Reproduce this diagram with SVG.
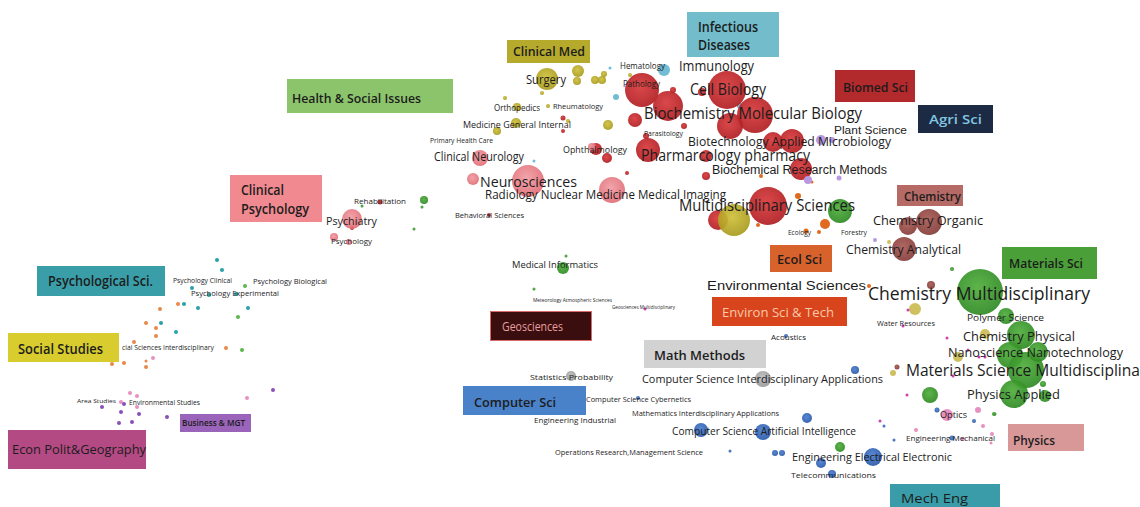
<svg xmlns="http://www.w3.org/2000/svg" width="1140" height="507" viewBox="0 0 1140 507">
<defs>
<radialGradient id="gRed" cx="45%" cy="40%" r="60%"><stop offset="0" stop-color="#d8383a"/><stop offset="1" stop-color="#b01e22"/></radialGradient>
<radialGradient id="gPink" cx="45%" cy="40%" r="60%"><stop offset="0" stop-color="#f09aa0"/><stop offset="1" stop-color="#e06a74"/></radialGradient>
<radialGradient id="gOlive" cx="45%" cy="40%" r="60%"><stop offset="0" stop-color="#cfc03a"/><stop offset="1" stop-color="#a89a1e"/></radialGradient>
<radialGradient id="gGreen" cx="45%" cy="40%" r="60%"><stop offset="0" stop-color="#4fae3a"/><stop offset="1" stop-color="#2f8a24"/></radialGradient>
<radialGradient id="gBrown" cx="45%" cy="40%" r="60%"><stop offset="0" stop-color="#a85a55"/><stop offset="1" stop-color="#843c38"/></radialGradient>
<radialGradient id="gBlue" cx="45%" cy="40%" r="60%"><stop offset="0" stop-color="#4a7ed0"/><stop offset="1" stop-color="#2a58a8"/></radialGradient>
<radialGradient id="gGray" cx="45%" cy="40%" r="60%"><stop offset="0" stop-color="#bdbdbd"/><stop offset="1" stop-color="#949494"/></radialGradient>
</defs>
<style>
text{font-family:"Open Sans","Noto Sans","Liberation Sans",sans-serif;fill:#1c1c1c}
.ar{font-family:"Liberation Sans",Arial,sans-serif}
.box text{font-weight:600}
.r{fill:url(#gRed);opacity:.92}
.p{fill:url(#gPink);opacity:.9}
.o{fill:url(#gOlive);opacity:.92}
.g{fill:url(#gGreen);opacity:.92}
.b{fill:url(#gBrown);opacity:.92}
.u{fill:url(#gBlue);opacity:.92}
.y{fill:url(#gGray);opacity:.9}
.lb{fill:#72bcd4}
.dt{fill:#2aa0a8}
.do{fill:#e8884a}
.dg{fill:#5cb84a}
.dp{fill:#e890c0}
.dv{fill:#8a50b8}
.dm{fill:#d040b0}
.dy{fill:#cfc060}
.dl{fill:#b898e0}
.dor{fill:#e06a20}
</style>
<rect width="1140" height="507" fill="#ffffff"/>

<g id="bubbles">
<!-- clinical med olive -->
<circle class="o" cx="547" cy="79" r="11"/>
<circle class="o" cx="578" cy="71" r="6"/>
<circle class="o" cx="577" cy="81" r="4"/>
<circle class="o" cx="595" cy="80" r="4"/>
<circle class="o" cx="602" cy="80" r="4"/>
<circle class="o" cx="604" cy="74" r="3"/>
<circle class="o" cx="553" cy="58" r="2.5"/>
<circle class="o" cx="542" cy="93" r="2"/>
<circle class="o" cx="505" cy="98" r="2"/>
<circle class="o" cx="517" cy="107" r="4"/>
<circle class="o" cx="516" cy="123" r="5"/>
<circle class="o" cx="497" cy="131" r="4"/>
<circle class="o" cx="608" cy="125" r="5"/>
<circle class="o" cx="548" cy="106" r="2"/>
<circle class="o" cx="630" cy="75" r="2"/>
<circle class="o" cx="568" cy="121" r="2"/>
<!-- light blue -->
<circle class="lb" cx="664" cy="70" r="6"/>
<circle class="lb" cx="616" cy="97" r="3"/>
<circle class="lb" cx="610" cy="68" r="1.5"/>
<circle class="lb" cx="534" cy="161" r="1.5"/>
<circle class="lb" cx="740" cy="106" r="3"/>
<!-- biomed red -->
<circle class="r" cx="642" cy="90" r="17"/>
<circle class="r" cx="668" cy="106" r="15"/>
<circle class="r" cx="635" cy="120" r="7"/>
<circle class="r" cx="727" cy="90" r="19"/>
<circle class="r" cx="755" cy="115" r="18"/>
<circle class="r" cx="730" cy="126" r="13"/>
<circle class="r" cx="702" cy="92" r="4"/>
<circle class="r" cx="673" cy="90" r="3"/>
<circle class="r" cx="648" cy="150" r="12"/>
<circle class="r" cx="684" cy="126" r="3"/>
<circle class="r" cx="706" cy="156" r="6"/>
<circle class="r" cx="773" cy="142" r="10"/>
<circle class="r" cx="792" cy="141" r="12"/>
<circle class="r" cx="801" cy="169" r="11"/>
<circle class="r" cx="706" cy="176" r="4"/>
<circle class="r" cx="627" cy="173" r="2"/>
<circle class="r" cx="596" cy="149" r="6"/>
<circle class="r" cx="607" cy="158" r="5"/>
<circle class="r" cx="563" cy="118" r="2.5"/>
<circle class="r" cx="563" cy="131" r="2"/>
<circle class="r" cx="646" cy="136" r="3"/>
<circle class="r" cx="768" cy="206" r="19"/>
<circle class="r" cx="718" cy="220" r="10"/>
<circle class="o" cx="734" cy="220" r="16"/>
<circle class="r" cx="352" cy="228" r="2"/>
<!-- pink neuro -->
<circle class="p" cx="528" cy="181" r="16"/>
<circle class="p" cx="473" cy="179" r="6"/>
<circle class="p" cx="480" cy="158" r="8"/>
<circle class="p" cx="612" cy="190" r="13"/>
<circle class="p" cx="592" cy="147" r="4"/>
<circle class="p" cx="352" cy="219" r="10"/>
<circle class="p" cx="334" cy="237" r="4"/>
<circle class="p" cx="349" cy="242" r="3"/>
<circle class="r" cx="380" cy="202" r="2.5"/>
<circle class="r" cx="489" cy="215" r="2"/>
<!-- greens left -->
<circle class="g" cx="424" cy="200" r="4"/>
<circle class="g" cx="422" cy="207" r="1.5"/>
<circle class="g" cx="414" cy="229" r="1.5"/>
<circle class="g" cx="362" cy="206" r="1.5"/>
<circle class="g" cx="563" cy="268" r="6"/>
<circle class="g" cx="566" cy="256" r="1.5"/>
<circle class="g" cx="534" cy="289" r="1.5"/>
<!-- multidisciplinary green + orange / purple -->
<circle class="g" cx="840" cy="211" r="12"/>
<circle class="dor" cx="825" cy="224" r="5"/>
<circle class="dor" cx="798" cy="196" r="3"/>
<circle class="dor" cx="812" cy="182" r="1.5"/>
<circle class="dor" cx="806" cy="231" r="2.5"/>
<circle class="dor" cx="819" cy="232" r="2"/>
<circle class="dor" cx="761" cy="176" r="2"/>
<circle class="dor" cx="758" cy="225" r="2"/>
<circle class="dl" cx="821" cy="140" r="5"/>
<circle class="dl" cx="832" cy="140" r="3"/>
<circle class="dl" cx="808" cy="180" r="4"/>
<circle class="dl" cx="839" cy="178" r="2.5"/>
<circle class="dl" cx="875" cy="240" r="2"/>
<circle class="dy" cx="889" cy="242" r="2"/>
<!-- chemistry brown -->
<circle class="b" cx="929" cy="222" r="13"/>
<circle class="b" cx="908" cy="226" r="9"/>
<circle class="b" cx="904" cy="249" r="12"/>
<circle class="b" cx="931" cy="285" r="4"/>
<circle class="dor" cx="869" cy="286" r="2"/>
<!-- materials green -->
<circle class="g" cx="952" cy="269" r="2"/>
<circle class="g" cx="980" cy="292" r="23"/>
<circle class="g" cx="1006" cy="316" r="8"/>
<circle class="g" cx="1021" cy="335" r="14"/>
<circle class="g" cx="1010" cy="355" r="13"/>
<circle class="g" cx="1026" cy="370" r="18"/>
<circle class="g" cx="1038" cy="352" r="10"/>
<circle class="g" cx="1014" cy="394" r="14"/>
<circle class="g" cx="1045" cy="396" r="6"/>
<circle class="g" cx="930" cy="395" r="8"/>
<circle class="g" cx="1043" cy="384" r="3"/>
<circle class="g" cx="994" cy="414" r="2"/>
<circle class="dy" cx="915" cy="309" r="6"/>
<circle class="dy" cx="985" cy="334" r="5"/>
<circle class="dy" cx="958" cy="357" r="5"/>
<circle class="dy" cx="893" cy="373" r="3"/>
<circle class="dm" cx="908" cy="310" r="1.5"/>
<circle class="dm" cx="903" cy="326" r="1.5"/>
<circle class="dm" cx="947" cy="338" r="1.5"/>
<circle class="dm" cx="968" cy="350" r="1.5"/>
<circle class="dm" cx="979" cy="357" r="1.5"/>
<circle class="dm" cx="985" cy="357" r="1.5"/>
<circle class="dm" cx="907" cy="395" r="1.5"/>
<circle class="dm" cx="953" cy="376" r="1.5"/>
<circle class="dm" cx="880" cy="421" r="1.5"/>
<circle class="b" cx="897" cy="367" r="2.5"/>
<circle class="dp" cx="978" cy="410" r="3"/>
<!-- physics / optics -->
<circle class="dp" cx="947" cy="415" r="6"/>
<circle class="dp" cx="916" cy="430" r="2"/>
<circle class="dp" cx="983" cy="426" r="2"/>
<circle class="dp" cx="992" cy="434" r="2"/>
<circle class="dp" cx="991" cy="443" r="1.5"/>
<circle class="dp" cx="963" cy="439" r="2"/>
<circle class="u" cx="937" cy="410" r="2.5"/>
<circle class="u" cx="974" cy="421" r="2"/>
<circle class="u" cx="884" cy="426" r="1.5"/>
<circle class="u" cx="894" cy="440" r="1.5"/>
<circle class="u" cx="952" cy="438" r="2.5"/>
<circle class="g" cx="995" cy="414" r="1.5"/>
<!-- blues / grays -->
<circle class="y" cx="763" cy="379" r="8"/>
<circle class="y" cx="571" cy="376" r="5"/>
<circle class="u" cx="855" cy="370" r="4"/>
<circle class="u" cx="807" cy="418" r="5"/>
<circle class="u" cx="763" cy="432" r="8"/>
<circle class="u" cx="701" cy="430" r="7"/>
<circle class="u" cx="638" cy="398" r="2"/>
<circle class="u" cx="730" cy="451" r="1.5"/>
<circle class="u" cx="775" cy="453" r="3"/>
<circle class="u" cx="782" cy="453" r="3"/>
<circle class="u" cx="821" cy="463" r="5"/>
<circle class="u" cx="832" cy="474" r="4"/>
<circle class="u" cx="873" cy="457" r="9"/>
<circle class="u" cx="786" cy="336" r="2"/>
<circle class="g" cx="840" cy="447" r="5"/>
<circle class="dm" cx="645" cy="309" r="1.5"/>
<!-- social / psych dots -->
<circle class="dt" cx="217" cy="260" r="2"/>
<circle class="dt" cx="222" cy="270" r="2"/>
<circle class="dt" cx="192" cy="288" r="2"/>
<circle class="dt" cx="198" cy="308" r="2"/>
<circle class="dt" cx="184" cy="304" r="2"/>
<circle class="dt" cx="248" cy="308" r="2"/>
<circle class="dt" cx="161" cy="323" r="2"/>
<circle class="dt" cx="176" cy="332" r="2"/>
<circle class="dt" cx="236" cy="294" r="2"/>
<circle class="dt" cx="209" cy="295" r="2"/>
<circle class="do" cx="178" cy="304" r="2"/>
<circle class="do" cx="160" cy="309" r="2"/>
<circle class="do" cx="146" cy="323" r="2"/>
<circle class="do" cx="156" cy="328" r="2"/>
<circle class="do" cx="156" cy="336" r="2"/>
<circle class="do" cx="134" cy="342" r="2"/>
<circle class="do" cx="226" cy="348" r="2"/>
<circle class="do" cx="146" cy="367" r="2"/>
<circle class="do" cx="124" cy="363" r="2"/>
<circle class="do" cx="112" cy="364" r="2"/>
<circle class="do" cx="146" cy="361" r="1.5"/>
<circle class="dg" cx="245" cy="286" r="2"/>
<circle class="dg" cx="238" cy="317" r="2"/>
<circle class="dg" cx="242" cy="350" r="2"/>
<circle class="dp" cx="153" cy="358" r="2"/>
<circle class="dp" cx="247" cy="398" r="2"/>
<circle class="dp" cx="130" cy="393" r="2"/>
<circle class="dp" cx="137" cy="396" r="2"/>
<circle class="dp" cx="121" cy="402" r="2"/>
<circle class="dp" cx="137" cy="407" r="2"/>
<circle class="dv" cx="273" cy="390" r="2"/>
<circle class="dv" cx="102" cy="407" r="2"/>
<circle class="dv" cx="121" cy="412" r="2"/>
<circle class="dv" cx="139" cy="414" r="2"/>
<circle class="dv" cx="167" cy="417" r="2"/>
<circle class="dv" cx="119" cy="423" r="2"/>
<circle class="dv" cx="132" cy="422" r="2"/>
<circle class="dv" cx="124" cy="404" r="2"/>
</g>

<g id="labels">
<text x="679" y="71" font-size="14" textLength="75" lengthAdjust="spacingAndGlyphs">Immunology</text>
<text x="690" y="95" font-size="16" textLength="76" lengthAdjust="spacingAndGlyphs">Cell Biology</text>
<text x="644" y="119" font-size="17" textLength="218" lengthAdjust="spacingAndGlyphs">Biochemistry Molecular Biology</text>
<text x="688" y="146" font-size="13" textLength="203" lengthAdjust="spacingAndGlyphs">Biotechnology Applied Microbiology</text>
<text x="641" y="161" font-size="16" textLength="169" lengthAdjust="spacingAndGlyphs">Pharmarcology pharmacy</text>
<text class="ar" x="712" y="174" font-size="12" textLength="175" lengthAdjust="spacingAndGlyphs">Biochemical Research Methods</text>
<text class="ar" x="834" y="134" font-size="11" textLength="73" lengthAdjust="spacingAndGlyphs">Plant Science</text>
<text x="620" y="69" font-size="9" textLength="45" lengthAdjust="spacingAndGlyphs">Hematology</text>
<text x="623" y="87" font-size="8.5" textLength="37" lengthAdjust="spacingAndGlyphs">Pathology</text>
<text x="526" y="84" font-size="12" textLength="40" lengthAdjust="spacingAndGlyphs">Surgery</text>
<text x="553" y="109" font-size="8" textLength="50" lengthAdjust="spacingAndGlyphs">Rheumatology</text>
<text x="494" y="111" font-size="8.5" textLength="46" lengthAdjust="spacingAndGlyphs">Orthopedics</text>
<text x="463" y="128" font-size="9.5" textLength="108" lengthAdjust="spacingAndGlyphs">Medicine General Internal</text>
<text x="430" y="143" font-size="6.5" textLength="63" lengthAdjust="spacingAndGlyphs">Primary Health Care</text>
<text x="644" y="136" font-size="6.5" textLength="39" lengthAdjust="spacingAndGlyphs">Parasitology</text>
<text x="563" y="153" font-size="9.5" textLength="64" lengthAdjust="spacingAndGlyphs">Ophthalmology</text>
<text x="434" y="161" font-size="12" textLength="90" lengthAdjust="spacingAndGlyphs">Clinical Neurology</text>
<text x="480" y="187" font-size="15" textLength="97" lengthAdjust="spacingAndGlyphs">Neurosciences</text>
<text x="485" y="199" font-size="12.5" textLength="241" lengthAdjust="spacingAndGlyphs">Radiology Nuclear Medicine Medical Imaging</text>
<text x="679" y="211" font-size="16" textLength="176" lengthAdjust="spacingAndGlyphs">Multidisciplinary Sciences</text>
<text x="788" y="235" font-size="6.5" textLength="23" lengthAdjust="spacingAndGlyphs">Ecology</text>
<text x="841" y="235" font-size="6.5" textLength="26" lengthAdjust="spacingAndGlyphs">Forestry</text>
<text x="873" y="225" font-size="13" textLength="110" lengthAdjust="spacingAndGlyphs">Chemistry Organic</text>
<text x="846" y="254" font-size="12" textLength="115" lengthAdjust="spacingAndGlyphs">Chemistry Analytical</text>
<text class="ar" x="707" y="290" font-size="13" textLength="159" lengthAdjust="spacingAndGlyphs">Environmental Sciences</text>
<text x="868" y="300" font-size="18" textLength="222" lengthAdjust="spacingAndGlyphs">Chemistry Multidisciplinary</text>
<text x="967" y="321" font-size="9" textLength="77" lengthAdjust="spacingAndGlyphs">Polymer Science</text>
<text x="877" y="326" font-size="7" textLength="58" lengthAdjust="spacingAndGlyphs">Water Resources</text>
<text x="963" y="341" font-size="13" textLength="112" lengthAdjust="spacingAndGlyphs">Chemistry Physical</text>
<text x="948" y="357" font-size="12" textLength="175" lengthAdjust="spacingAndGlyphs">Nanoscience Nanotechnology</text>
<text x="906" y="376" font-size="16" textLength="248" lengthAdjust="spacingAndGlyphs">Materials Science Multidisciplinary</text>
<text x="967" y="399" font-size="12" textLength="93" lengthAdjust="spacingAndGlyphs">Physics Applied</text>
<text x="940" y="418" font-size="8.5" textLength="27" lengthAdjust="spacingAndGlyphs">Optics</text>
<text x="906" y="441" font-size="7.5" textLength="89" lengthAdjust="spacingAndGlyphs">Engineering Mechanical</text>
<text x="771" y="340" font-size="7.5" textLength="35" lengthAdjust="spacingAndGlyphs">Acoustics</text>
<text x="642" y="383" font-size="11" textLength="241" lengthAdjust="spacingAndGlyphs">Computer Science Interdisciplinary Applications</text>
<text x="530" y="380" font-size="8" textLength="83" lengthAdjust="spacingAndGlyphs">Statistics Probability</text>
<text x="586" y="402" font-size="7" textLength="105" lengthAdjust="spacingAndGlyphs">Computer Science Cybernetics</text>
<text x="632" y="416" font-size="7" textLength="147" lengthAdjust="spacingAndGlyphs">Mathematics Interdisciplinary Applications</text>
<text x="534" y="423" font-size="7.5" textLength="82" lengthAdjust="spacingAndGlyphs">Engineering Industrial</text>
<text x="672" y="435" font-size="11" textLength="184" lengthAdjust="spacingAndGlyphs">Computer Science Artificial Intelligence</text>
<text x="555" y="455" font-size="7" textLength="148" lengthAdjust="spacingAndGlyphs">Operations Research,Management Science</text>
<text x="792" y="461" font-size="11" textLength="160" lengthAdjust="spacingAndGlyphs">Engineering Electrical Electronic</text>
<text x="791" y="478" font-size="8" textLength="85" lengthAdjust="spacingAndGlyphs">Telecommunications</text>
<text x="512" y="268" font-size="9.5" textLength="86" lengthAdjust="spacingAndGlyphs">Medical Informatics</text>
<text x="533" y="302" font-size="4.5" textLength="79" lengthAdjust="spacingAndGlyphs">Meteorology Atmospheric Sciences</text>
<text x="612" y="309" font-size="4.5" textLength="63" lengthAdjust="spacingAndGlyphs">Geosciences Multidisciplinary</text>
<text x="455" y="218" font-size="7.5" textLength="69" lengthAdjust="spacingAndGlyphs">Behavioral Sciences</text>
<text x="354" y="204" font-size="7.5" textLength="52" lengthAdjust="spacingAndGlyphs">Rehabilitation</text>
<text x="326" y="225" font-size="11" textLength="51" lengthAdjust="spacingAndGlyphs">Psychiatry</text>
<text x="331" y="244" font-size="7.5" textLength="41" lengthAdjust="spacingAndGlyphs">Psychology</text>
<text x="173" y="283" font-size="6.5" textLength="59" lengthAdjust="spacingAndGlyphs">Psychology Clinical</text>
<text x="253" y="284" font-size="7.5" textLength="74" lengthAdjust="spacingAndGlyphs">Psychology Biological</text>
<text x="191" y="296" font-size="7.5" textLength="88" lengthAdjust="spacingAndGlyphs">Psychology Experimental</text>
<text x="122" y="350" font-size="6.5" textLength="92" lengthAdjust="spacingAndGlyphs">cial Sciences Interdisciplinary</text>
<text x="77" y="403" font-size="6" textLength="39" lengthAdjust="spacingAndGlyphs">Area Studies</text>
<text x="129" y="405" font-size="6.5" textLength="71" lengthAdjust="spacingAndGlyphs">Environmental Studies</text>
</g>

<g class="box">
<g id="infectious-diseases"><rect x="687" y="12" width="92" height="45" fill="#72bccb"/><text x="698" y="32" font-size="14" textLength="60" lengthAdjust="spacingAndGlyphs">Infectious</text><text x="698" y="50" font-size="14" textLength="52" lengthAdjust="spacingAndGlyphs">Diseases</text></g>
<g id="clinical-med"><rect x="507" y="40" width="83" height="23" fill="#b5aa2c"/><text x="513" y="56" font-size="13" textLength="72" lengthAdjust="spacingAndGlyphs">Clinical Med</text></g>
<g id="health-social"><rect x="287" y="79" width="166" height="34" fill="#8cc46c"/><text x="292" y="103" font-size="13" textLength="129" lengthAdjust="spacingAndGlyphs">Health &amp; Social Issues</text></g>
<g id="biomed-sci"><rect x="835" y="70" width="80" height="32" fill="#b32a2c"/><text x="843" y="92" font-size="13" textLength="65" lengthAdjust="spacingAndGlyphs">Biomed Sci</text></g>
<g id="agri-sci"><rect x="918" y="105" width="75" height="28" fill="#1c2a44"/><text x="929" y="124" font-size="13" textLength="53" lengthAdjust="spacingAndGlyphs" style="fill:#82c6e0">Agri Sci</text></g>
<g id="clinical-psychology"><rect x="230" y="175" width="92" height="47" fill="#f08a90"/><text x="241" y="195" font-size="14" textLength="43" lengthAdjust="spacingAndGlyphs">Clinical</text><text x="241" y="214" font-size="14" textLength="68" lengthAdjust="spacingAndGlyphs">Psychology</text></g>
<g id="chemistry"><rect x="897" y="185" width="66" height="21" fill="#b56a66"/><text x="904" y="201" font-size="12" textLength="57" lengthAdjust="spacingAndGlyphs">Chemistry</text></g>
<g id="materials-sci"><rect x="1002" y="247" width="95" height="32" fill="#4a9f38"/><text x="1009" y="268" font-size="12" textLength="74" lengthAdjust="spacingAndGlyphs">Materials Sci</text></g>
<g id="ecol-sci"><rect x="770" y="245" width="62" height="27" fill="#d8622c"/><text x="777" y="264" font-size="12" textLength="45" lengthAdjust="spacingAndGlyphs">Ecol Sci</text></g>
<g id="psychological-sci"><rect x="37" y="266" width="128" height="30" fill="#3a9ea8"/><text x="48" y="286" font-size="14" textLength="105" lengthAdjust="spacingAndGlyphs">Psychological Sci.</text></g>
<g id="environ-sci-tech"><rect x="712" y="297" width="135" height="29" fill="#d8441c"/><text x="722" y="317" font-size="13" textLength="112" lengthAdjust="spacingAndGlyphs" style="fill:#f8c8a8;font-weight:400">Environ Sci &amp; Tech</text></g>
<g id="geosciences"><rect x="490.5" y="311.5" width="101" height="29" fill="#3a0e0e" stroke="#d86a6a" stroke-width="1"/><text x="502" y="331" font-size="12" textLength="61" lengthAdjust="spacingAndGlyphs" style="fill:#e8a0a0;font-weight:400">Geosciences</text></g>
<g id="social-studies"><rect x="8" y="333" width="111" height="29" fill="#d8cc2e"/><text x="18" y="354" font-size="14" textLength="85" lengthAdjust="spacingAndGlyphs">Social Studies</text></g>
<g id="math-methods"><rect x="644" y="340" width="122" height="28" fill="#d2d2d2"/><text x="654" y="360" font-size="13" textLength="91" lengthAdjust="spacingAndGlyphs">Math Methods</text></g>
<g id="computer-sci"><rect x="463" y="386" width="123" height="29" fill="#4a82ca"/><text x="474" y="407" font-size="13" textLength="82" lengthAdjust="spacingAndGlyphs">Computer Sci</text></g>
<g id="business-mgt"><rect x="180" y="414" width="71" height="18" fill="#9a64ba"/><text x="182" y="426" font-size="8.5" textLength="63" lengthAdjust="spacingAndGlyphs">Business &amp; MGT</text></g>
<g id="econ-polit-geography"><rect x="8" y="430" width="138" height="39" fill="#b44a84"/><text x="12" y="454" font-size="13" textLength="134" lengthAdjust="spacingAndGlyphs" style="font-weight:400">Econ Polit&amp;Geography</text></g>
<g id="physics"><rect x="1008" y="424" width="76" height="27" fill="#d89898"/><text x="1013" y="445" font-size="12" textLength="42" lengthAdjust="spacingAndGlyphs">Physics</text></g>
<g id="mech-eng"><rect x="890" y="484" width="110" height="23" fill="#3a9ca8"/><text x="901" y="503" font-size="13" textLength="67" lengthAdjust="spacingAndGlyphs" style="font-weight:400">Mech Eng</text></g>
</g>
</svg>
